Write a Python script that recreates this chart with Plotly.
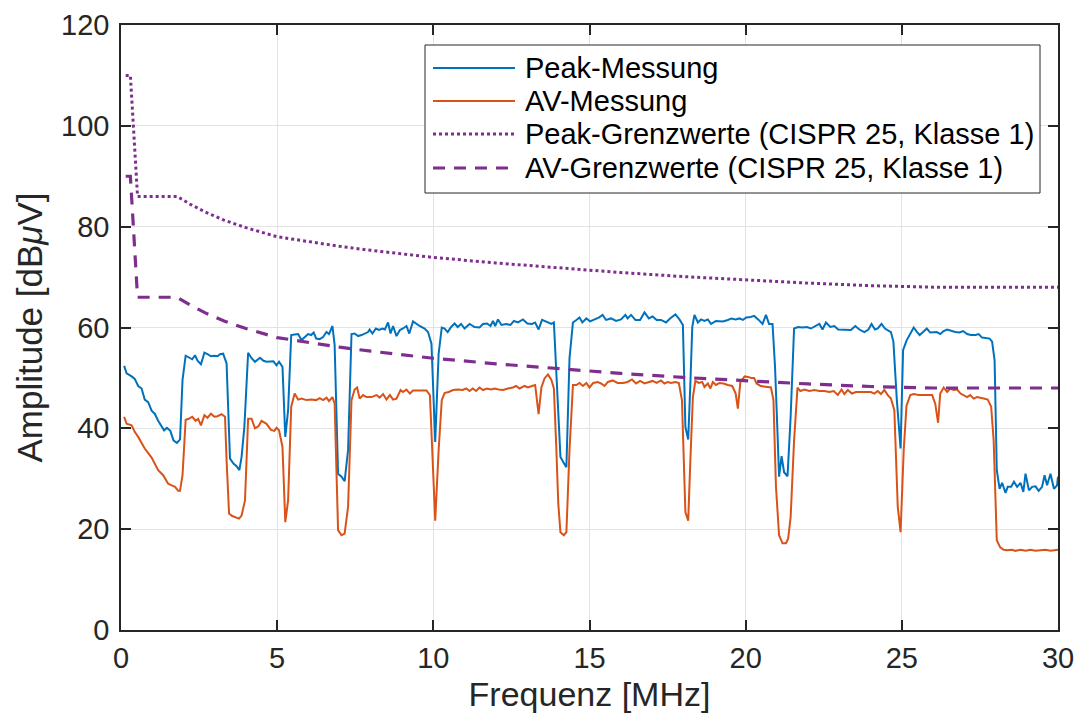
import plotly.graph_objects as go

# Peak measurement (frequency in MHz, level in dBuV)
peak_freq = [0.10, 0.18, 0.34, 0.44, 0.55, 0.66, 0.76, 0.87, 0.98, 1.08, 1.19, 1.30, 1.38, 1.47, 1.58, 1.68, 1.79, 1.89, 1.97,
             2.07, 2.17, 2.28, 2.37, 2.45, 2.56, 2.67, 2.77, 2.88, 2.99, 3.09, 3.17, 3.27, 3.38, 3.49, 3.60, 3.70, 3.79, 3.86,
             3.95, 4.02, 4.07, 4.18, 4.29, 4.45, 4.56, 4.66, 4.77, 4.88, 4.98, 5.06, 5.17, 5.26, 5.35, 5.45, 5.56, 5.67, 5.78,
             5.88, 5.99, 6.09, 6.17, 6.25, 6.36, 6.47, 6.58, 6.66, 6.77, 6.84, 6.95, 7.06, 7.16, 7.27, 7.38, 7.48, 7.59, 7.70,
             7.80, 7.91, 7.96, 8.05, 8.16, 8.26, 8.37, 8.45, 8.55, 8.63, 8.71, 8.82, 8.93, 9.03, 9.14, 9.23, 9.35, 9.46, 9.56,
             9.72, 9.83, 9.94, 10.06, 10.17, 10.27, 10.36, 10.46, 10.57, 10.68, 10.78, 10.89, 11.00, 11.16, 11.32, 11.48, 11.59,
             11.72, 11.83, 11.91, 11.98, 12.07, 12.18, 12.33, 12.47, 12.58, 12.71, 12.87, 13.01, 13.16, 13.26, 13.37, 13.48,
             13.62, 13.78, 13.86, 13.97, 14.07, 14.18, 14.26, 14.36, 14.47, 14.58, 14.68, 14.77, 14.90, 15.02, 15.16, 15.31,
             15.42, 15.53, 15.69, 15.85, 16.01, 16.15, 16.22, 16.33, 16.47, 16.62, 16.76, 16.90, 17.02, 17.15, 17.29, 17.45,
             17.58, 17.75, 17.88, 17.99, 18.07, 18.16, 18.23, 18.29, 18.36, 18.47, 18.57, 18.68, 18.79, 18.89, 19.05, 19.27,
             19.43, 19.54, 19.68, 19.80, 19.91, 20.02, 20.16, 20.27, 20.40, 20.54, 20.65, 20.75, 20.86, 20.94, 21.02, 21.07,
             21.15, 21.23, 21.34, 21.44, 21.55, 21.68, 21.82, 21.96, 22.09, 22.22, 22.36, 22.46, 22.57, 22.71, 22.84, 22.96,
             23.16, 23.37, 23.51, 23.64, 23.80, 23.93, 24.03, 24.14, 24.23, 24.35, 24.46, 24.56, 24.65, 24.73, 24.84, 24.96,
             25.04, 25.15, 25.27, 25.38, 25.49, 25.57, 25.68, 25.80, 25.91, 26.02, 26.12, 26.23, 26.34, 26.45, 26.57, 26.71,
             26.85, 26.96, 27.09, 27.21, 27.36, 27.46, 27.57, 27.71, 27.81, 27.89, 27.97, 28.04, 28.13, 28.21, 28.32, 28.39,
             28.50, 28.59, 28.69, 28.80, 28.89, 28.96, 29.07, 29.17, 29.28, 29.38, 29.49, 29.57, 29.65, 29.76, 29.87, 29.97,
             30.00]
peak_dbuv = [52.4, 50.9, 50.3, 49.8, 48.4, 47.9, 45.7, 45.2, 43.5, 42.9, 41.5, 40.3, 39.6, 40.1, 39.5, 37.6, 37.1, 37.8, 49.6,
             54.4, 54.0, 53.7, 54.5, 53.4, 52.7, 55.0, 54.7, 54.3, 54.4, 54.3, 54.7, 54.8, 52.9, 34.0, 33.0, 32.5, 31.7, 34.3,
             40.3, 50.2, 55.0, 53.9, 53.2, 54.0, 53.4, 53.2, 53.2, 53.3, 52.5, 53.2, 52.2, 38.3, 43.6, 58.5, 58.6, 58.7, 57.5,
             58.1, 58.7, 58.5, 59.0, 57.8, 57.7, 58.1, 59.1, 58.7, 60.3, 56.5, 31.0, 30.4, 29.5, 35.7, 58.7, 58.8, 58.3, 58.5,
             58.8, 59.1, 59.6, 58.8, 59.8, 59.5, 59.8, 59.6, 61.0, 58.8, 60.3, 58.3, 59.5, 59.8, 60.3, 58.8, 61.2, 60.7, 60.3,
             59.8, 59.1, 56.8, 37.3, 54.8, 60.0, 59.8, 59.1, 60.1, 60.8, 60.1, 60.7, 59.8, 60.7, 60.1, 60.0, 60.7,
             60.8, 60.3, 61.3, 60.3, 61.6, 60.5, 60.7, 60.5, 61.3, 61.0, 61.6, 60.8, 60.7, 61.0, 59.6, 61.5,
             61.2, 60.7, 61.0, 45.6, 34.3, 33.1, 32.3, 53.9, 61.0, 61.5, 62.0, 61.0, 61.8, 61.2, 61.6, 62.0,
             62.5, 61.5, 61.8, 61.3, 61.6, 62.5, 61.8, 62.5, 61.5, 61.5, 63.0, 61.8, 62.2, 61.5, 61.5, 61.0,
             61.8, 62.6, 61.6, 60.5, 40.3, 37.8, 48.9, 60.1, 62.5, 61.0, 61.6, 61.3, 61.6, 60.7, 61.3, 61.2,
             61.5, 61.8, 61.6, 61.8, 61.5, 62.0, 62.1, 62.3, 61.6, 60.7, 62.5, 60.7, 60.7, 52.2, 39.0, 30.4,
             34.5, 31.3, 30.5, 42.3, 59.8, 60.1, 60.0, 60.1, 59.8, 60.3, 60.7, 59.6, 61.0, 60.1, 60.3, 59.6,
             59.6, 59.5, 60.3, 59.6, 59.1, 59.6, 60.7, 59.6, 59.8, 60.7, 59.8, 59.5, 59.1, 57.2, 45.6, 36.0,
             55.5, 57.4, 58.8, 60.0, 59.1, 58.5, 59.1, 59.8, 59.0, 59.1, 59.1, 58.7, 59.3, 59.6, 59.3, 59.1,
             59.0, 59.3, 58.7, 58.5, 58.5, 58.7, 58.0, 57.8, 57.8, 57.2, 53.5, 31.7, 28.0, 29.2, 27.2, 28.4,
             28.4, 29.4, 28.4, 29.2, 27.4, 31.0, 27.7, 28.4, 28.5, 27.6, 28.4, 30.7, 28.7, 31.0, 28.0, 28.7,
             30.4]

# Average measurement
av_freq = [0.10, 0.18, 0.34, 0.44, 0.55, 0.76, 0.98, 1.19, 1.35, 1.51, 1.62, 1.73, 1.83, 1.89, 1.97, 2.07, 2.17, 2.28, 2.39,
           2.47, 2.56, 2.67, 2.77, 2.88, 2.99, 3.09, 3.22, 3.33, 3.38, 3.46, 3.56, 3.67, 3.78, 3.86, 3.97, 4.07, 4.18, 4.29,
           4.40, 4.50, 4.66, 4.80, 4.91, 4.98, 5.06, 5.17, 5.26, 5.35, 5.45, 5.56, 5.67, 5.78, 5.94, 6.09, 6.25, 6.36, 6.47,
           6.58, 6.66, 6.77, 6.84, 6.95, 7.06, 7.16, 7.27, 7.38, 7.48, 7.56, 7.64, 7.75, 7.86, 8.02, 8.18, 8.28, 8.39, 8.50,
           8.61, 8.71, 8.82, 8.95, 9.03, 9.14, 9.25, 9.35, 9.46, 9.68, 9.78, 9.89, 10.00, 10.06, 10.17, 10.27, 10.36, 10.49,
           10.63, 10.78, 10.94, 11.05, 11.16, 11.26, 11.37, 11.48, 11.59, 11.72, 11.85, 11.96, 12.09, 12.23, 12.39, 12.55,
           12.65, 12.76, 12.92, 13.03, 13.16, 13.26, 13.37, 13.46, 13.56, 13.67, 13.78, 13.86, 13.94, 14.00, 14.07, 14.18,
           14.26, 14.36, 14.47, 14.58, 14.68, 14.79, 14.90, 15.00, 15.12, 15.26, 15.37, 15.48, 15.59, 15.74, 15.90, 16.07,
           16.22, 16.36, 16.49, 16.62, 16.76, 16.92, 17.02, 17.15, 17.29, 17.40, 17.51, 17.61, 17.75, 17.86, 17.96, 18.07,
           18.16, 18.23, 18.31, 18.39, 18.50, 18.61, 18.68, 18.79, 18.87, 18.95, 19.05, 19.16, 19.29, 19.43, 19.57, 19.68,
           19.75, 19.83, 19.97, 20.07, 20.18, 20.27, 20.35, 20.48, 20.65, 20.81, 20.89, 20.97, 21.07, 21.18, 21.29, 21.36,
           21.44, 21.55, 21.66, 21.75, 21.88, 22.04, 22.20, 22.36, 22.52, 22.68, 22.82, 22.95, 23.07, 23.16, 23.27, 23.40,
           23.53, 23.69, 23.85, 24.01, 24.12, 24.23, 24.33, 24.44, 24.55, 24.65, 24.76, 24.87, 24.96, 25.06, 25.15, 25.27,
           25.38, 25.54, 25.70, 25.86, 25.97, 26.07, 26.16, 26.23, 26.34, 26.45, 26.55, 26.66, 26.77, 26.88, 26.98, 27.09,
           27.19, 27.30, 27.41, 27.52, 27.62, 27.75, 27.86, 27.94, 28.04, 28.15, 28.26, 28.37, 28.53, 28.64, 28.80, 28.96,
           29.12, 29.28, 29.44, 29.60, 29.76, 29.92, 30.00]
av_dbuv = [42.3, 40.9, 40.6, 39.3, 38.3, 36.0, 34.2, 31.7, 30.7, 29.0, 28.7, 28.4, 27.6, 27.6, 30.7, 41.7, 41.9, 42.3, 41.5,
           41.9, 40.6, 42.6, 42.1, 42.9, 42.3, 42.4, 42.8, 42.3, 33.7, 23.1, 22.6, 22.3, 22.1, 22.7, 25.7, 41.9, 41.9, 40.0,
           40.4, 41.5, 40.9, 39.7, 39.5, 40.1, 39.6, 36.3, 21.4, 25.7, 44.3, 46.9, 45.7, 45.9, 45.6, 45.7, 45.6, 46.0, 45.6,
           46.1, 45.4, 46.2, 44.9, 19.8, 18.8, 19.1, 24.4, 45.6, 47.7, 48.1, 45.9, 46.6, 46.2, 46.2, 46.6, 46.1, 46.8, 45.7,
           46.6, 45.7, 45.9, 47.6, 47.2, 47.7, 46.9, 47.5, 47.5, 47.6, 47.5, 46.6, 32.3, 21.7, 35.7, 45.6, 47.0, 47.2,
           47.6, 47.7, 47.6, 47.9, 47.4, 47.9, 47.4, 48.1, 47.6, 47.9, 47.7, 47.9, 47.7, 47.6, 47.9, 48.1,
           48.4, 47.9, 48.4, 48.1, 48.4, 48.6, 42.8, 48.1, 49.9, 50.7, 49.6, 47.9, 35.7, 25.1, 19.4, 18.8,
           19.4, 35.7, 48.6, 48.6, 49.0, 48.4, 49.0, 48.1, 49.0, 49.2, 48.9, 48.4, 49.2, 49.5, 49.0, 49.0,
           49.2, 49.7, 48.9, 49.4, 48.9, 49.2, 49.4, 49.0, 49.5, 48.9, 49.2, 49.0, 49.2, 49.0, 45.6, 23.4,
           21.7, 33.7, 46.2, 49.4, 49.0, 49.2, 48.2, 48.9, 47.9, 49.2, 48.6, 49.0, 48.9, 48.6, 48.4, 46.9,
           43.9, 49.2, 50.3, 50.2, 50.0, 50.0, 48.9, 48.4, 48.2, 48.1, 45.6, 28.4, 18.8, 17.2, 17.2, 18.1,
           22.4, 37.6, 48.1, 47.4, 47.7, 47.4, 47.6, 47.4, 47.4, 47.2, 47.4, 46.6, 47.7, 46.8, 47.6, 46.9,
           47.2, 47.2, 47.2, 47.2, 46.9, 47.4, 46.8, 47.6, 46.6, 45.9, 43.6, 24.4, 19.4, 35.7, 44.5, 46.6,
           46.8, 46.6, 46.6, 46.6, 46.6, 44.9, 41.1, 46.9, 48.1, 47.2, 47.9, 47.6, 47.7, 46.9, 46.6, 46.2,
           46.6, 45.9, 46.2, 46.1, 45.9, 45.7, 44.3, 37.6, 17.8, 16.4, 15.9, 15.8, 15.9, 15.7, 15.9, 15.7,
           15.9, 15.7, 15.8, 15.9, 15.7, 15.8, 15.9]

# CISPR 25 class 1 limit curves
limit_freq = [0.15, 0.30, 0.53, 1.8, 2.2, 2.7, 3.3, 4.0, 5.0, 6.0, 7.0, 8.0, 9.0, 10.0, 12.0, 14.0, 16.0, 18.0, 20.0,
              22.0, 24.0, 26.0, 28.0, 30.0]
peak_limit = [110, 110, 86, 86, 84.5, 82.9, 81.3, 79.8, 78.0, 77.0, 76.1, 75.3, 74.6, 73.9, 72.8, 71.8, 70.9, 70.1, 69.4,
              68.8, 68.3, 68.0, 68.0, 68.0]
av_limit = [90, 90, 66, 66, 64.5, 62.9, 61.3, 59.8, 58.0, 57.0, 56.1, 55.3, 54.6, 53.9, 52.8, 51.8, 50.9, 50.1, 49.4,
            48.8, 48.3, 48.0, 48.0, 48.0]

x_ticks = [0, 5, 10, 15, 20, 25, 30]
y_ticks = [0, 20, 40, 60, 80, 100, 120]

BLUE = "#0072BD"
ORANGE = "#D95319"
PURPLE = "#7E2F8E"
AXIS = "#262626"
FONT = "Liberation Sans, Arial, sans-serif"

W, H = 1079, 720
M_L, M_R, M_T, M_B = 121, 21, 25, 90
PLOT_W = W - M_L - M_R
PLOT_H = H - M_T - M_B


def px_x(px):
    return (px - M_L) / PLOT_W


def px_y(py):
    return (H - M_B - py) / PLOT_H


series = [
    dict(name="Peak-Messung", x=peak_freq, y=peak_dbuv, line=dict(color=BLUE, width=2)),
    dict(name="AV-Messung", x=av_freq, y=av_dbuv, line=dict(color=ORANGE, width=2)),
    dict(name="Peak-Grenzwerte (CISPR 25, Klasse 1)", x=limit_freq, y=peak_limit,
         line=dict(color=PURPLE, width=3, dash="3px,3px")),
    dict(name="AV-Grenzwerte (CISPR 25, Klasse 1)", x=limit_freq, y=av_limit,
         line=dict(color=PURPLE, width=3.2, dash="12px,9px")),
]

fig = go.Figure()
for s in series:
    fig.add_trace(go.Scatter(x=s["x"], y=s["y"], mode="lines", name=s["name"],
                             line=s["line"], showlegend=False))

# Legend box with line samples (boxed, upper right inside the axes)
box_left, box_right, box_top, box_bottom = 425, 1040, 45, 193
row_y = [68, 101, 134, 168]
sample_x0, sample_x1, text_x = 433, 515, 523

shapes = [dict(type="rect", xref="paper", yref="paper",
               x0=px_x(box_left), x1=px_x(box_right), y0=px_y(box_bottom), y1=px_y(box_top),
               line=dict(color=AXIS, width=1), fillcolor="white", layer="above")]
annotations = []
for s, ry in zip(series, row_y):
    ln = dict(color=s["line"]["color"], width=s["line"]["width"])
    if "dash" in s["line"]:
        ln["dash"] = s["line"]["dash"]
    shapes.append(dict(type="line", xref="paper", yref="paper",
                       x0=px_x(sample_x0), x1=px_x(sample_x1), y0=px_y(ry), y1=px_y(ry),
                       line=ln, layer="above"))
    annotations.append(dict(xref="paper", yref="paper", x=px_x(text_x), y=px_y(ry),
                            xanchor="left", yanchor="middle", showarrow=False,
                            text=s["name"], font=dict(family=FONT, size=29, color="black")))

axis_common = dict(
    showline=True, linecolor=AXIS, linewidth=1.5, mirror="allticks",
    ticks="inside", ticklen=10, tickwidth=1.5, tickcolor=AXIS,
    showgrid=True, gridcolor="#e3e3e3", gridwidth=1, zeroline=False,
    tickfont=dict(family=FONT, size=29, color=AXIS),
    automargin=False,
)

fig.update_layout(
    width=W, height=H,
    margin=dict(l=M_L, r=M_R, t=M_T, b=M_B, autoexpand=False),
    paper_bgcolor="white", plot_bgcolor="white",
    font=dict(family=FONT, color=AXIS),
    xaxis=dict(range=[0, 30], tickvals=x_ticks, ticktext=[str(v) for v in x_ticks],
               title=dict(text="Frequenz [MHz]", font=dict(family=FONT, size=34, color=AXIS), standoff=10),
               ticklabelstandoff=1, **axis_common),
    yaxis=dict(range=[0, 120], tickvals=y_ticks, ticktext=[str(v) for v in y_ticks],
               title=dict(text="Amplitude [dB<i>μ</i>V]", font=dict(family=FONT, size=35, color=AXIS), standoff=8),
               ticklabelstandoff=4, **axis_common),
    shapes=shapes,
    annotations=annotations,
    showlegend=False,
)

fig.write_html("out.html")
